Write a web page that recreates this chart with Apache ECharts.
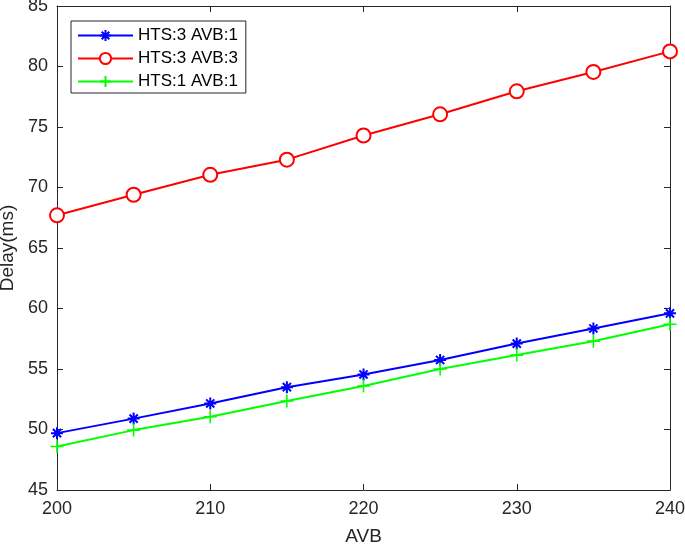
<!DOCTYPE html>
<html>
<head>
<meta charset="utf-8">
<script src="https://cdn.jsdelivr.net/npm/echarts@6/dist/echarts.min.js"></script>
<style>html,body{margin:0;padding:0;background:#fff}#c{width:685px;height:545px}</style>
</head>
<body>
<div id="c"></div>
<script>
const avb = [200, 205, 210, 215, 220, 225, 230, 235, 240];
const hts3avb1 = [49.7, 50.9, 52.15, 53.5, 54.55, 55.75, 57.1, 58.35, 59.6];
const hts3avb3 = [67.7, 69.4, 71.05, 72.3, 74.3, 76.05, 77.95, 79.55, 81.25];
const hts1avb1 = [48.6, 49.95, 51.05, 52.35, 53.6, 55.0, 56.15, 57.3, 58.7];
const seriesNames = ['HTS:3 AVB:1', 'HTS:3 AVB:3', 'HTS:1 AVB:1'];

const pair = (ys) => avb.map((x, i) => [x, ys[i]]);
const font = '"Liberation Sans", Arial, Helvetica, sans-serif';
const axisColor = '#262626';
const asterisk = 'path://M5,0L5,10M0,5L10,5M1.6,1.6L8.4,8.4M8.4,1.6L1.6,8.4';
const plus = 'path://M5,0L5,10M0,5L10,5';

const chart = echarts.init(document.getElementById('c'), null, {renderer: 'canvas'});
const baseX = {
  type: 'value', min: 200, max: 240, interval: 10,
  axisLine: {show: true, lineStyle: {color: axisColor, width: 1}},
  axisTick: {show: true, inside: true, length: 6, lineStyle: {color: axisColor}},
  splitLine: {show: false}
};
const baseY = {
  type: 'value', min: 45, max: 85, interval: 5,
  axisLine: {show: true, lineStyle: {color: axisColor, width: 1}},
  axisTick: {show: true, inside: true, length: 6, lineStyle: {color: axisColor}},
  splitLine: {show: false}
};
chart.setOption({
  animation: false,
  backgroundColor: '#fff',
  grid: {left: 57, right: 15, top: 6, bottom: 55, containLabel: false, outerBoundsMode: 'none'},
  legend: {
    orient: 'vertical', left: 71, top: 21,
    data: seriesNames,
    itemWidth: 55, itemHeight: 14, itemGap: 6,
    padding: [6, 8, 3, 6],
    borderColor: '#262626', borderWidth: 1, backgroundColor: '#fff',
    textStyle: {fontFamily: font, fontSize: 17, color: '#000'}
  },
  xAxis: [
    Object.assign({}, baseX, {
      position: 'bottom',
      name: 'AVB', nameLocation: 'middle', nameGap: 37,
      nameTextStyle: {fontFamily: font, fontSize: 19, color: axisColor},
      axisLabel: {fontFamily: font, fontSize: 18, color: axisColor, margin: 10}
    }),
    Object.assign({}, baseX, {position: 'top', axisLabel: {show: false}})
  ],
  yAxis: [
    Object.assign({}, baseY, {
      position: 'left',
      name: 'Delay(ms)', nameLocation: 'middle', nameGap: 36,
      nameTextStyle: {fontFamily: font, fontSize: 19, color: axisColor},
      axisLabel: {fontFamily: font, fontSize: 18, color: axisColor, margin: 9}
    }),
    Object.assign({}, baseY, {position: 'right', axisLabel: {show: false}})
  ],
  series: [
    {
      name: seriesNames[0], type: 'line', data: pair(hts3avb1),
      symbol: asterisk, symbolSize: 12, showAllSymbol: true,
      lineStyle: {color: '#0000ff', width: 2},
      itemStyle: {color: '#0000ff', borderColor: '#0000ff', borderWidth: 2}
    },
    {
      name: seriesNames[1], type: 'line', data: pair(hts3avb3),
      symbol: 'emptyCircle', symbolSize: 14, showAllSymbol: true,
      lineStyle: {color: '#ff0000', width: 2},
      itemStyle: {color: '#ff0000', borderColor: '#ff0000', borderWidth: 1.6}
    },
    {
      name: seriesNames[2], type: 'line', data: pair(hts1avb1),
      symbol: plus, symbolSize: 13, showAllSymbol: true,
      lineStyle: {color: '#00ff00', width: 2},
      itemStyle: {color: '#00ff00', borderColor: '#00ff00', borderWidth: 1.6}
    }
  ]
});
</script>
</body>
</html>
